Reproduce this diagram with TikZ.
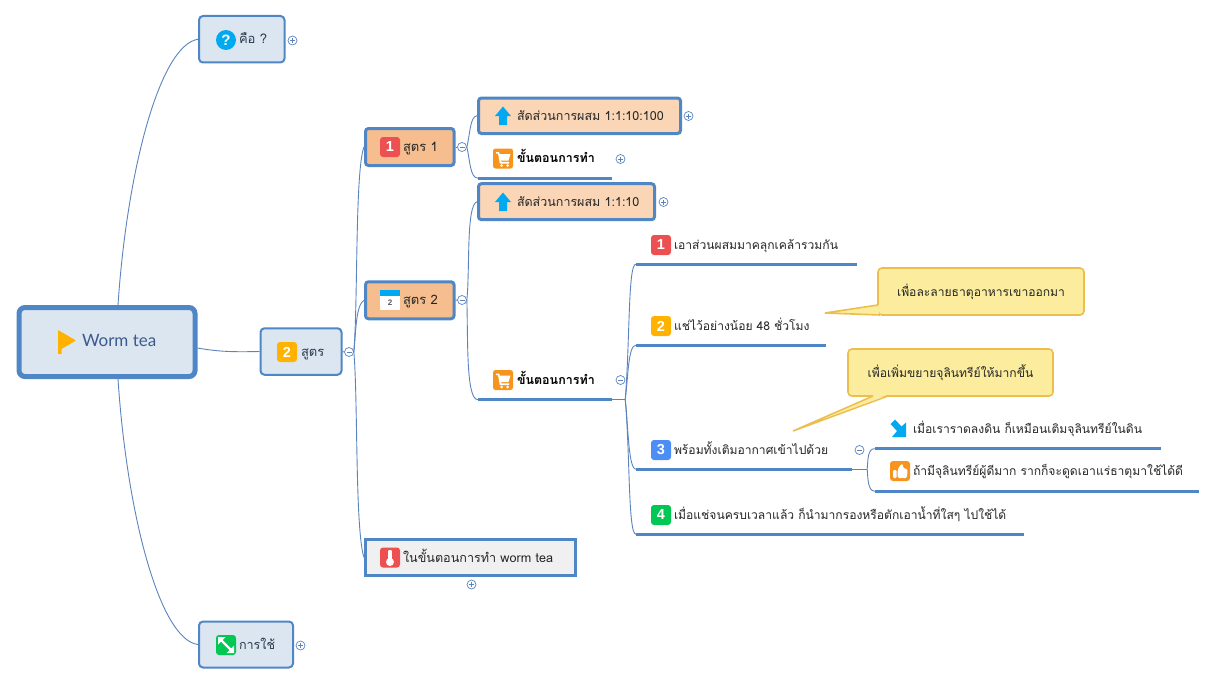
\documentclass[tikz,border=0pt]{standalone}
\usepackage{fontspec}
\setmainfont[Script=Thai]{Loma}
\newfontfamily\latofont{Lato}
\newfontfamily\digfont{Liberation Sans}
\usetikzlibrary{calc}
\definecolor{bline}{HTML}{4F86C6}
\definecolor{cline}{HTML}{5B84BE}
\definecolor{lvla}{HTML}{DCE6F1}
\definecolor{lvlb}{HTML}{F6BE8E}
\definecolor{lvlc}{HTML}{FAD6B6}
\definecolor{lvld}{HTML}{F0F0F0}
\definecolor{calfill}{HTML}{FBEC9E}
\definecolor{calline}{HTML}{EDBE4E}
\definecolor{ttxt}{HTML}{2B3A4E}
\definecolor{rtxt}{HTML}{3B5B8C}
\definecolor{ired}{HTML}{EC5050}
\definecolor{iamb}{HTML}{FFB300}
\definecolor{iblu}{HTML}{4C8DF6}
\definecolor{igrn}{HTML}{00C853}
\definecolor{isky}{HTML}{00A9F0}
\definecolor{iora}{HTML}{F7941D}
\tikzset{
  x=1pt,y=-1pt,
  base/.style={inner sep=0pt,text height=10.5pt,text depth=1.5pt,font=\fontsize{12.1}{15}\selectfont,text=black!85},
  rootbox/.style={base,draw=bline,line width=5pt,fill=lvla,rounded corners=6pt,text=rtxt,font=\latofont\fontsize{17}{20}\selectfont},
  topicbox/.style={base,draw=bline,line width=2pt,fill=lvla,rounded corners=4pt,text=ttxt,font=\fontsize{13}{15}\selectfont},
  subbox/.style={base,draw=bline,line width=3pt,fill=lvlb,rounded corners=3pt,font=\fontsize{13}{15}\selectfont},
  ratiobox/.style={base,draw=bline,line width=3pt,fill=lvlc,rounded corners=3pt,font=\fontsize{12.5}{15}\selectfont},
  tempbox/.style={base,draw=bline,line width=3pt,fill=lvld,font=\fontsize{12.6}{15}\selectfont},
  plain/.style={base},
  stepbold/.style={base,font=\bfseries\fontsize{12.5}{15}\selectfont,text=black},
  under/.style={draw=bline,line width=2.8pt},
  conn/.style={draw=cline,line width=0.9pt},
  callbox/.style={base,draw=calline,line width=1.6pt,fill=calfill,rounded corners=4pt},
  tog/.style={circle,draw=cline,line width=0.7pt,fill=white,minimum size=9pt,inner sep=0pt},
  togminus/.style={tog,path picture={\draw[cline,line width=0.6pt] ([xshift=-2.5pt]path picture bounding box.center) -- ([xshift=2.5pt]path picture bounding box.center);}},
  togplus/.style={tog,path picture={\draw[cline,line width=0.6pt] ([xshift=-2.5pt]path picture bounding box.center) -- ([xshift=2.5pt]path picture bounding box.center) ([yshift=-2.5pt]path picture bounding box.center) -- ([yshift=2.5pt]path picture bounding box.center);}},
  numicon/.style={rounded corners=3pt,minimum size=20pt,inner sep=0pt,text=white,font=\digfont\bfseries\fontsize{14.5}{15}\selectfont},
}
\newcommand{\lbl}[3]{\makebox[#1pt][l]{\hspace*{#2pt}#3}}
\newcommand{\icarrow}[2]{\fill[isky,shift={(#1,#2)}] (0,-9.5) -- (8,0) -- (4,0) -- (4,9) -- (-4,9) -- (-4,0) -- (-8,0) -- cycle;}
\newcommand{\iccart}[2]{\begin{scope}[shift={(#1,#2)}]
\fill[iora,rounded corners=2.5pt] (-10,-10) rectangle (10,10);
\fill[white] (-7,-6.5) -- (-4,-6.5) -- (-3.3,-4.5) -- (7.5,-4.5) -- (5.5,2) -- (-2,2) -- (-1.6,3.4) -- (6,3.4) -- (6,5) -- (-3.2,5) -- (-5,-5) -- (-7,-5) -- cycle;
\fill[white] (-1.3,7) circle (1.5) (4.6,7) circle (1.5);
\end{scope}}
\begin{document}
\begin{tikzpicture}
\useasboundingbox[fill=white] (0,0) rectangle (1217,685);
% main boxes
\node[rootbox,minimum width=176pt,minimum height=69pt] (root) at (107,342) {\lbl{176}{63}{Worm tea}};
\node[topicbox,minimum width=85.5pt,minimum height=46.5pt] (what) at (241.75,39.25) {\lbl{85.5}{40}{คือ ?}};
\node[topicbox,minimum width=81pt,minimum height=46.5pt] (sutr) at (301,351.5) {\lbl{81}{40.5}{สูตร}};
\node[topicbox,minimum width=94pt,minimum height=46pt,font=\fontsize{12.6}{15}\selectfont] (use) at (246,644.5) {\lbl{94}{40}{การใช้}};
\node[subbox,minimum width=88.5pt,minimum height=37pt] (recA) at (409.75,147) {\lbl{88.5}{37.5}{สูตร 1}};
\node[subbox,minimum width=88.5pt,minimum height=37pt] (recB) at (409.75,300.25) {\lbl{88.5}{37.5}{สูตร 2}};
\node[tempbox,minimum width=210pt,minimum height=36pt] (temp) at (470.5,557.5) {\lbl{210}{37.5}{ในขั้นตอนการทำ worm tea}};
\node[ratiobox,minimum width=202pt,minimum height=35.5pt] (ratioA) at (579.5,115.75) {\lbl{202}{38.5}{สัดส่วนการผสม 1:1:10:100}};
\node[ratiobox,minimum width=176pt,minimum height=36pt] (ratioB) at (566.5,201.7) {\lbl{176}{38.5}{สัดส่วนการผสม 1:1:10}};
% underlined topics
\node[stepbold,minimum width=134pt,minimum height=40pt] (stepA) at (545,158) {\lbl{134}{39}{ขั้นตอนการทำ}};
\node[stepbold,minimum width=134pt,minimum height=40pt] (stepB) at (545,379.5) {\lbl{134}{39}{ขั้นตอนการทำ}};
\node[plain,minimum width=221pt,minimum height=38pt] (itemA) at (746.5,245) {\lbl{221}{38}{เอาส่วนผสมมาคลุกเคล้ารวมกัน}};
\node[plain,minimum width=190pt,minimum height=38pt] (itemB) at (731,326) {\lbl{190}{38}{แช่ไว้อย่างน้อย 48 ชั่วโมง}};
\node[plain,minimum width=216pt,minimum height=38pt] (itemC) at (744,450) {\lbl{216}{38}{พร้อมทั้งเติมอากาศเข้าไปด้วย}};
\node[plain,minimum width=388pt,minimum height=38pt] (itemD) at (830,515) {\lbl{388}{38}{เมื่อแช่จนครบเวลาแล้ว ก็นำมากรองหรือตักเอาน้ำที่ใสๆ ไปใช้ได้}};
\node[plain,minimum width=286pt,minimum height=40pt] (subA) at (1018,428.5) {\lbl{286}{38}{เมื่อเราราดลงดิน ก็เหมือนเติมจุลินทรีย์ในดิน}};
\node[plain,minimum width=324pt,minimum height=40pt] (subB) at (1037,471) {\lbl{324}{38}{ถ้ามีจุลินทรีย์ผู้ดีมาก รากก็จะดูดเอาแร่ธาตุมาใช้ได้ดี}};
\foreach \n in {stepA,stepB,itemA,itemB,itemC,itemD,subA,subB}
  \draw[under] (\n.south west) -- (\n.south east);
% toggles
\node[togplus] (tWhat) at (292.5,40.5) {};
\node[togminus] (tSutr) at (349,352) {};
\node[togplus] (tUse) at (300.5,645.5) {};
\node[togminus] (tRecA) at (462,147) {};
\node[togminus] (tRecB) at (462,300) {};
\node[togplus] (tTemp) at (471.5,584.5) {};
\node[togplus] (tRatioA) at (688.5,116) {};
\node[togplus] (tRatioB) at (663.5,202) {};
\node[togplus] (tStepA) at (620.5,159) {};
\node[togminus] (tStepB) at (620.5,380) {};
\node[togminus] (tItemC) at (859.5,450) {};
% connectors
\draw[conn] ([xshift=11pt]root.north) .. controls (127,170) and (160,45) .. (what.west);
\draw[conn] ([xshift=11pt]root.south) .. controls (127,515) and (160,640) .. (use.west);
\draw[conn] ([yshift=-6pt]root.east) .. controls (220,352) and (235,352) .. (sutr.west);
\draw[conn] (sutr.east) -- (tSutr.west);
\draw[conn] (tSutr.east) .. controls (358,300) and (355,170) .. (recA.west);
\draw[conn] (tSutr.east) .. controls (356,330) and (356,305) .. (recB.west);
\draw[conn] (tSutr.east) .. controls (358,400) and (355,530) .. (temp.west);
\draw[conn] (recA.east) -- (tRecA.west);
\draw[conn] (recB.east) -- (tRecB.west);
\draw[conn] (tRecA.east) .. controls (470,135) and (470,116) .. (ratioA.west);
\draw[conn] (tRecA.east) .. controls (470,160) and (470,178) .. (stepA.south west);
\draw[conn] (tRecB.east) .. controls (470,270) and (466,205) .. (ratioB.west);
\draw[conn] (tRecB.east) .. controls (468,340) and (466,399.5) .. (stepB.south west);
\coordinate (jB) at ($(stepB.south east)+(13,0)$);
\draw[conn] (stepB.south east) -- (jB);
\draw[conn] (jB) .. controls (630,340) and (628,264) .. (itemA.south west);
\draw[conn] (jB) .. controls (628,380) and (628,345) .. (itemB.south west);
\draw[conn] (jB) .. controls (628,420) and (628,469) .. (itemC.south west);
\draw[conn] (jB) .. controls (630,450) and (628,534) .. (itemD.south west);
\coordinate (jC) at ($(itemC.south east)+(15,0)$);
\draw[conn] (itemC.south east) -- (jC);
\draw[conn] (jC) .. controls (868,458) and (868,448.5) .. (subA.south west);
\draw[conn] (jC) .. controls (868,480) and (868,491) .. (subB.south west);
% callouts
\node[callbox,minimum width=206pt,minimum height=47pt] (calA) at (981,291.5) {เพื่อละลายธาตุอาหารเขาออกมา};
\coordinate (tipA) at (825,313);
\fill[calfill] (879,305) -- (tipA) -- (879,314.5) -- cycle;
\draw[calline,line width=1.6pt] (878,305) -- (tipA) -- (880,315);
\node[callbox,minimum width=205pt,minimum height=47pt] (calB) at (950.5,372.5) {เพื่อเพิ่มขยายจุลินทรีย์ให้มากขึ้น};
\coordinate (tipB) at (793,431);
\fill[calfill] (874,395) -- (tipB) -- (887,395) -- cycle;
\draw[calline,line width=1.5pt] (873,396) -- (tipB) -- (888,396);
% icons
\fill[iamb,rounded corners=0.6pt] (58,330) -- (76,340.5) -- (61.5,349) -- (61.5,354) -- (58,354) -- cycle;
\node[circle,fill=isky,minimum size=20pt,inner sep=0pt,text=white,font=\digfont\bfseries\fontsize{15}{15}\selectfont] (icQ) at (226,40) {?};
\node[numicon,fill=iamb] (icS) at (287,352) {2};
\node[numicon,fill=ired] (icA) at (390,147) {1};
\fill[white] (380,290) rectangle (400,310);
\fill[isky] (380,290) rectangle (400,296);
\node[font=\digfont\bfseries\fontsize{8}{9}\selectfont,text=black!65,inner sep=0pt] (icCal) at (390,303) {2};
\icarrow{503}{116}
\icarrow{503}{202}
\iccart{503}{158.5}
\iccart{503}{380}
\node[numicon,fill=ired] (ic1) at (661,245) {1};
\node[numicon,fill=iamb] (ic2) at (661,326) {2};
\node[numicon,fill=iblu] (ic3) at (661,450) {3};
\node[numicon,fill=igrn] (ic4) at (661,515) {4};
% thermometer
\fill[ired,rounded corners=3pt] (380,547.5) rectangle (400,567.5);
\fill[white] (390,562) circle (4);
\fill[white,rounded corners=1pt] (388.2,550) rectangle (391.8,560);
% double arrow
\fill[igrn,rounded corners=3pt] (216,635) rectangle (236,655);
\draw[white,line width=2.4pt] (221,640) -- (231,650);
\fill[white] (218,637) -- (225.5,637) -- (218,644.5) -- cycle (234,653) -- (226.5,653) -- (234,645.5) -- cycle;
% diagonal arrow
\fill[isky] (890.5,424) -- (895,419.5) -- (901.5,426.5) -- (906,422.5) -- (906,437) -- (892,437) -- (897,431) -- cycle;
% thumb
\fill[iora,rounded corners=3pt] (890,461) rectangle (910,481);
\fill[white,rounded corners=1pt] (893,470) rectangle (896.5,478);
\fill[white,rounded corners=1.5pt] (897.5,470) -- (901,464) -- (903,464) -- (903,468.5) -- (907.5,468.5) -- (907,478) -- (897.5,478) -- cycle;
\end{tikzpicture}
\end{document}
